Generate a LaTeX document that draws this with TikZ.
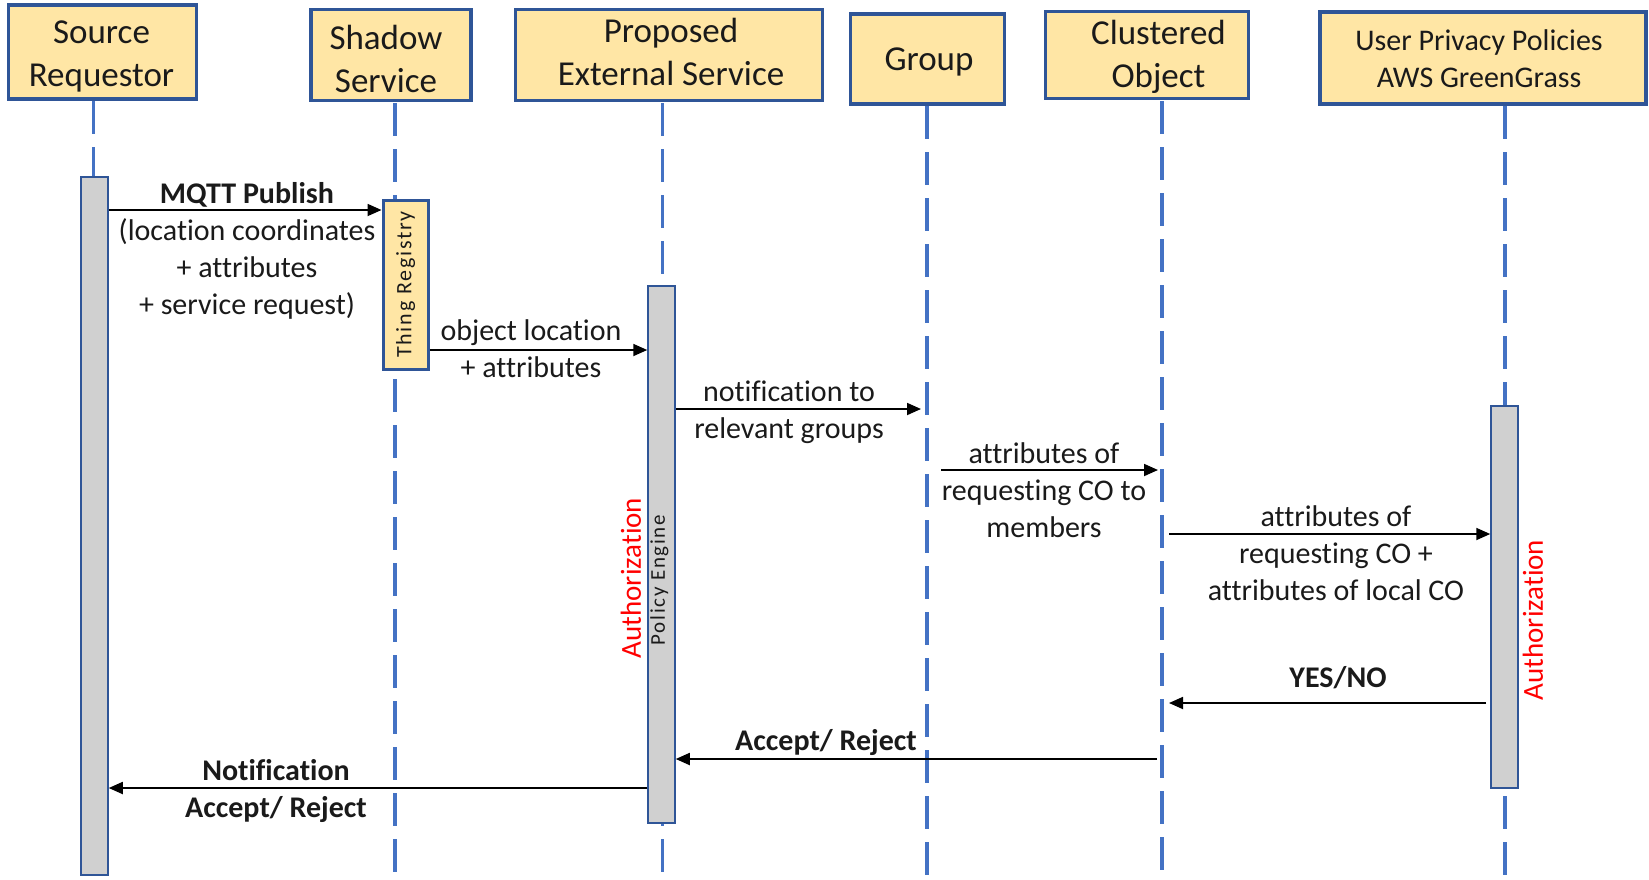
\documentclass[tikz,border=0pt]{standalone}
\usepackage{fontspec}
\setmainfont[Ligatures=NoCommon]{Carlito}
\newfontfamily\spacedfont[LetterSpace=8,Ligatures=NoCommon]{Carlito}
\usetikzlibrary{arrows.meta}
\definecolor{hdrfill}{HTML}{FFE6A5}
\definecolor{hdrline}{HTML}{2F5597}
\definecolor{lifeblue}{HTML}{4472C4}
\definecolor{bargray}{HTML}{D0D0D0}
\definecolor{txt}{HTML}{1A1A1A}
\begin{document}
\begin{tikzpicture}[x=1pt,y=-1pt,
  hdr/.style={draw=hdrline, line width=3.5pt, fill=hdrfill, inner sep=0pt},
  hdrtxt/.style={align=center, font=\fontsize{35}{43}\selectfont, text=txt, inner sep=0pt},
  life/.style={draw=lifeblue, line width=3.5pt, dash pattern=on 33pt off 13pt},
  actbar/.style={draw=hdrline, line width=1.5pt, fill=bargray,
    minimum width=27pt, inner sep=0pt},
  regbox/.style={draw=hdrline, line width=3pt, fill=hdrfill,
    minimum width=45pt, inner sep=0pt},
  msg/.style={draw=black, line width=1.8pt, -{Triangle[length=14pt,width=12pt]}},
  lbl/.style={align=center, font=\fontsize{30}{37}\selectfont, text=txt, inner sep=0pt},
  blbl/.style={lbl, font=\fontsize{30}{37}\selectfont\bfseries},
  vtxt/.style={rotate=90, inner sep=0pt, text=txt},
  auth/.style={rotate=90, inner sep=0pt, text=red, font=\fontsize{29}{35}\selectfont},
]
\useasboundingbox (0,0) rectangle (1649,879);

% participants
\node[hdr, minimum width=188pt, minimum height=94pt] (src) at (102.5,52) {};
\node[hdr, minimum width=160pt, minimum height=91pt] (shd) at (391,55) {};
\node[hdr, minimum width=307pt, minimum height=91pt] (pes) at (669,55) {};
\node[hdr, minimum width=154pt, minimum height=90pt] (grp) at (927.5,59) {};
\node[hdr, minimum width=203pt, minimum height=87pt] (clo) at (1147,55) {};
\node[hdr, minimum width=326pt, minimum height=92pt] (upp) at (1483,58) {};
\node[hdrtxt] (srctxt) at (101.5,56) {Source\\Requestor};
\node[hdrtxt] (shdtxt) at (386,59) {Shadow\\Service};
\node[hdrtxt] (pestxt) at (671,52) {Proposed\\External Service};
\node[hdrtxt] (grptxt) at (929,62) {Group};
\node[hdrtxt] (clotxt) at (1158.5,57) {Clustered\\Object};
\node[hdrtxt, font=\fontsize{30}{37}\selectfont] (upptxt) at (1479,59) {User Privacy Policies\\AWS GreenGrass};

% lifelines
\coordinate (srcT) at (93.6,101);  \coordinate (srcB) at (93.6,879);
\coordinate (shdT) at (395,103);   \coordinate (shdB) at (395,879);
\coordinate (pesT) at (662.5,103); \coordinate (pesB) at (662.5,879);
\coordinate (grpT) at (927,106);   \coordinate (grpB) at (927,879);
\coordinate (cloT) at (1162,101);  \coordinate (cloB) at (1162,879);
\coordinate (uppT) at (1505,106);  \coordinate (uppB) at (1505,879);
\foreach \p in {src,shd,pes,grp,clo,upp}{\draw[life] (\p T) -- (\p B);}

% activation bars
\node[actbar, minimum height=698pt] (srcbar) at (94.5,526) {};
\node[regbox, minimum height=169pt] (thing) at (405.5,284.5) {};
\node[vtxt, font=\spacedfont\fontsize{22}{26}\selectfont] (thingtxt) at (thing.center) {Thing Registry};
\node[actbar, minimum height=537pt] (polbar) at (661.5,554.5) {};
\node[vtxt, font=\spacedfont\fontsize{21}{25}\selectfont] (poltxt) at (659.5,580) {Policy Engine};
\node[actbar, minimum height=382pt] (authbar) at (1504.5,597) {};
\node[auth] (auth1) at (631,578) {Authorization};
\node[auth] (auth2) at (1533,620) {Authorization};

% message end points on lifelines
\coordinate (m3e) at (921,409);
\coordinate (m4s) at (941,470);  \coordinate (m4e) at (1158,470);
\coordinate (m5s) at (1169,534);
\coordinate (m6s) at (1486,703); \coordinate (m6e) at (1169,703);
\coordinate (m7s) at (1157,759);

% messages
\draw[msg] (srcbar.east |- 0,210) -- (thing.west |- 0,210);
\draw[msg] (thing.east |- 0,350) -- (polbar.west |- 0,350);
\draw[msg] (polbar.east |- m3e) -- (m3e);
\draw[msg] (m4s) -- (m4e);
\draw[msg] (m5s) -- (authbar.west |- m5s);
\draw[msg] (m6s) -- (m6e);
\draw[msg] (m7s) -- (polbar.east |- m7s);
\draw[msg] (polbar.west |- 0,788) -- (srcbar.east |- 0,788);

% message labels
\node[lbl] (l1) at (247,250.5) {\textbf{MQTT Publish}\\(location coordinates\\+ attributes\\+ service request)};
\node[lbl] (l2) at (531,349) {object location\\+ attributes};
\node[lbl] (l3) at (789,412) {notification to\\relevant groups};
\node[lbl] (l4) at (1044,490) {attributes of\\requesting CO to\\members};
\node[lbl] (l5) at (1336,553) {attributes of\\requesting CO +\\attributes of local CO};
\node[blbl] (l6) at (1338,678) {YES/NO};
\node[blbl] (l7) at (826,742) {Accept/ Reject};
\node[blbl] (l8) at (276,791) {Notification\\Accept/ Reject};
\end{tikzpicture}
\end{document}
